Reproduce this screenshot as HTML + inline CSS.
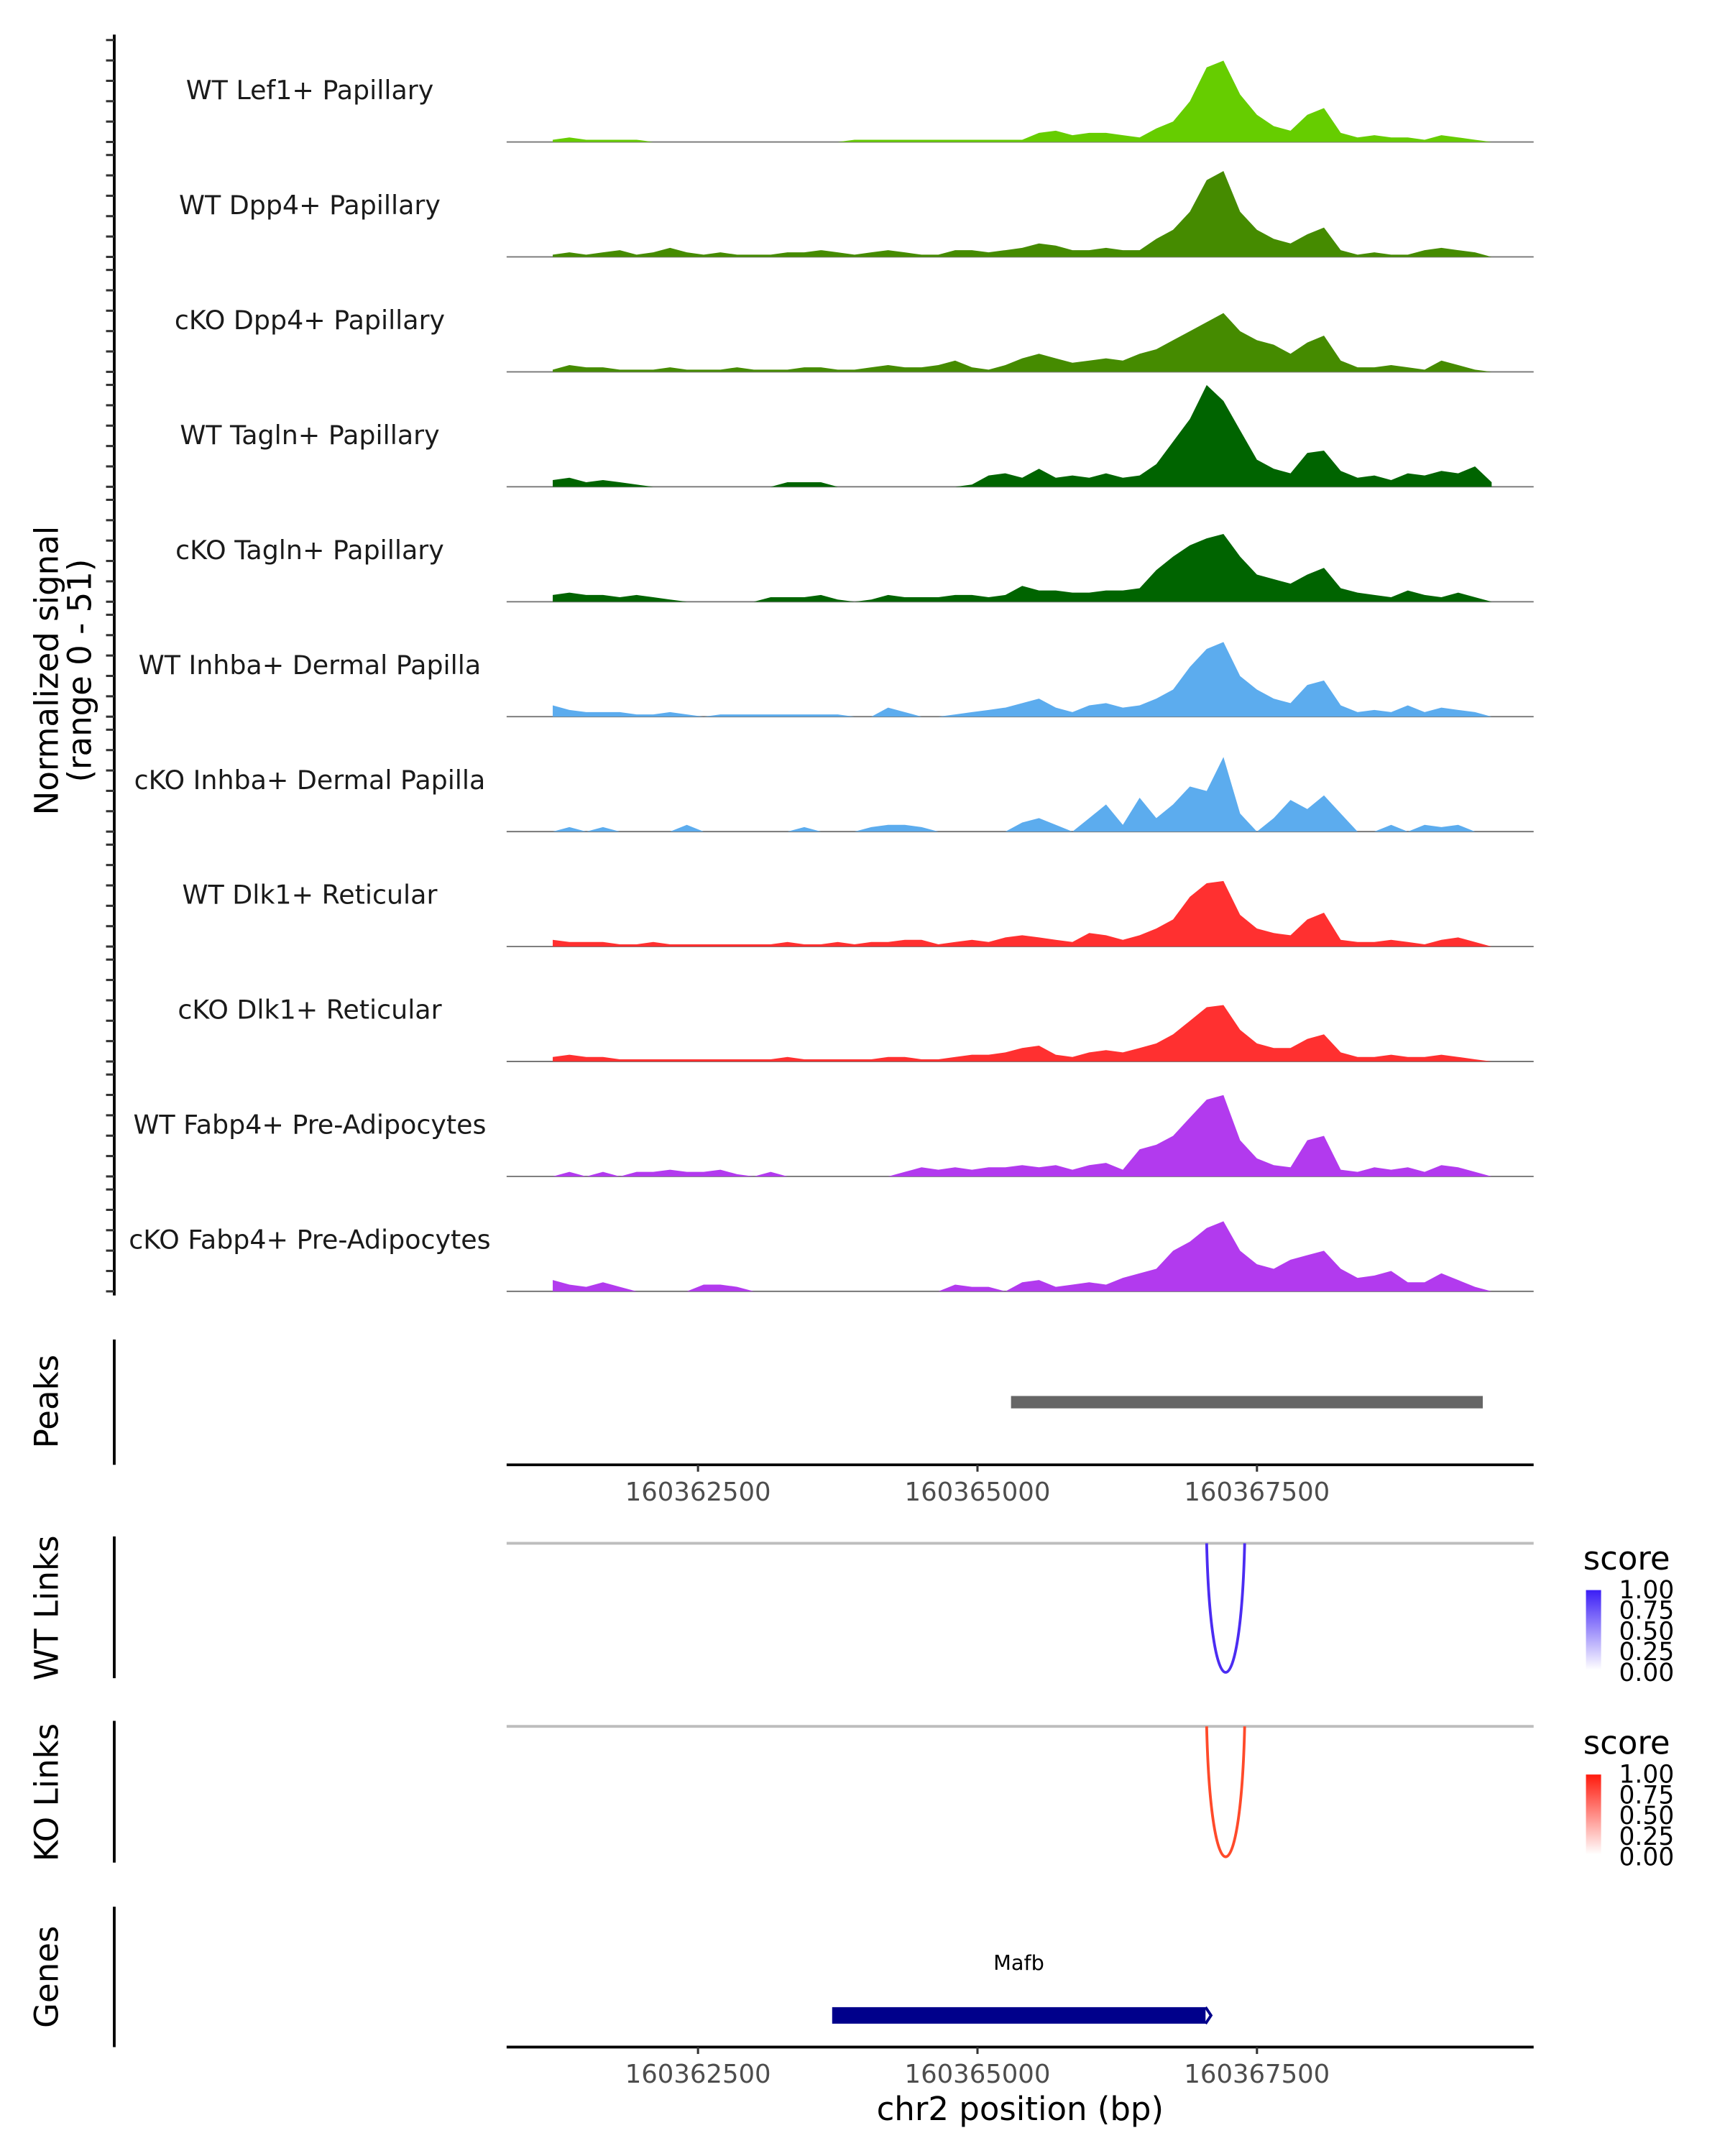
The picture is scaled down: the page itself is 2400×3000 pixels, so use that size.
<!DOCTYPE html>
<html><head><meta charset="utf-8"><style>
html,body{margin:0;padding:0;background:#fff}
svg{display:block}
text{font-family:"DejaVu Sans","Liberation Sans",sans-serif}
</style></head><body>
<svg id="chart" width="2400" height="3000" viewBox="0 0 1253 1566" xmlns="http://www.w3.org/2000/svg">
<defs>
<linearGradient id="gBlue" x1="0" y1="1" x2="0" y2="0"><stop offset="0" stop-color="#ffffff"/><stop offset="1" stop-color="#3b1ef6"/></linearGradient>
<linearGradient id="gRed" x1="0" y1="1" x2="0" y2="0"><stop offset="0" stop-color="#ffffff"/><stop offset="1" stop-color="#ff1a0d"/></linearGradient>
</defs>
<g id="tracks"></g>
<text transform="translate(42,487) rotate(-90)" text-anchor="middle" font-size="23.5" fill="#000">Normalized signal</text>
<text transform="translate(66,487) rotate(-90)" text-anchor="middle" font-size="23.5" fill="#000">(range 0 - 51)</text>

<g>
<line x1="83" y1="973" x2="83" y2="1064" stroke="#000" stroke-width="2"/>
<text transform="translate(42,1018) rotate(-90)" text-anchor="middle" font-size="23.5">Peaks</text>
<g id="peaks"></g>
<line x1="368" y1="1064" x2="1114" y2="1064" stroke="#000" stroke-width="2"/>
<g id="axis1"></g>
</g>

<g>
<line x1="83" y1="1116" x2="83" y2="1219" stroke="#000" stroke-width="2"/>
<text transform="translate(42,1168) rotate(-90)" text-anchor="middle" font-size="23.5">WT Links</text>
<line x1="368" y1="1121" x2="1114" y2="1121" stroke="#bdbdbd" stroke-width="2"/>
<g id="wtlinks"></g>
<g>
<text x="1150" y="1140" font-size="23.5">score</text>
<rect x="1152" y="1155" width="11" height="58" fill="url(#gBlue)"/>
<text x="1176" y="1161" font-size="18">1.00</text><text x="1176" y="1176" font-size="18">0.75</text><text x="1176" y="1191" font-size="18">0.50</text><text x="1176" y="1206" font-size="18">0.25</text><text x="1176" y="1221" font-size="18">0.00</text>
</g>
</g>

<g>
<line x1="83" y1="1250" x2="83" y2="1353" stroke="#000" stroke-width="2"/>
<text transform="translate(42,1302) rotate(-90)" text-anchor="middle" font-size="23.5">KO Links</text>
<line x1="368" y1="1254" x2="1114" y2="1254" stroke="#bdbdbd" stroke-width="2"/>
<g id="kolinks"></g>
<g>
<text x="1150" y="1274" font-size="23.5">score</text>
<rect x="1152" y="1289" width="11" height="58" fill="url(#gRed)"/>
<text x="1176" y="1295" font-size="18">1.00</text><text x="1176" y="1310" font-size="18">0.75</text><text x="1176" y="1325" font-size="18">0.50</text><text x="1176" y="1340" font-size="18">0.25</text><text x="1176" y="1355" font-size="18">0.00</text>
</g>
</g>

<g>
<line x1="83" y1="1385" x2="83" y2="1487" stroke="#000" stroke-width="2"/>
<text transform="translate(42,1436) rotate(-90)" text-anchor="middle" font-size="23.5">Genes</text>
<g id="genes"></g>
<line x1="368" y1="1487" x2="1114" y2="1487" stroke="#000" stroke-width="2"/>
<g id="axis2"></g>
<text x="741" y="1540" text-anchor="middle" font-size="23.5">chr2 position (bp)</text>
</g>
</svg>
<script>
const trackNames=["WT Lef1+ Papillary","WT Dpp4+ Papillary","cKO Dpp4+ Papillary","WT Tagln+ Papillary","cKO Tagln+ Papillary","WT Inhba+ Dermal Papilla","cKO Inhba+ Dermal Papilla","WT Dlk1+ Reticular","cKO Dlk1+ Reticular","WT Fabp4+ Pre-Adipocytes","cKO Fabp4+ Pre-Adipocytes"];
const trackColors=["#66CD00","#458B00","#458B00","#006400","#006400","#5CACEE","#5CACEE","#FF3030","#FF3030","#B23AEE","#B23AEE"];
const binStart=160361200;
const binSize=150;
const sigLef1=[1,2,1,1,1,1,0,0,0,0,0,0,0,0,0,0,0,0,1,1,1,1,1,1,1,1,1,1,1,4,5,3,4,4,3,2,6,9,18,33,36,21,12,7,5,12,15,4,2,3,2,2,1,3,2,1,0];
const sigDpp4WT=[1,2,1,2,3,1,2,4,2,1,2,1,1,1,2,2,3,2,1,2,3,2,1,1,3,3,2,3,4,6,5,3,3,4,3,3,8,12,20,34,38,20,12,8,6,10,13,3,1,2,1,1,3,4,3,2,0];
const sigDpp4KO=[1,3,2,2,1,1,1,2,1,1,1,2,1,1,1,2,2,1,1,2,3,2,2,3,5,2,1,3,6,8,6,4,5,6,5,8,10,14,18,22,26,18,14,12,8,13,16,5,2,2,3,2,1,5,3,1,0];
const sigTaglnWT=[3,4,2,3,2,1,0,0,0,0,0,0,0,0,2,2,2,0,0,0,0,0,0,0,0,1,5,6,4,8,4,5,4,6,4,5,10,20,30,45,38,25,12,8,6,15,16,7,4,5,3,6,5,7,6,9,2];
const sigTaglnKO=[3,4,3,3,2,3,2,1,0,0,0,0,0,2,2,2,3,1,0,1,3,2,2,2,3,3,2,3,7,5,5,4,4,5,5,6,14,20,25,28,30,20,12,10,8,12,15,6,4,3,2,5,3,2,4,2,0];
const sigInhbaWT=[5,3,2,2,2,1,1,2,1,0,1,1,1,1,1,1,1,1,0,0,4,2,0,0,1,2,3,4,6,8,4,2,5,6,4,5,8,12,22,30,33,18,12,8,6,14,16,5,2,3,2,5,2,4,3,2,0];
const sigInhbaKO=[0,2,0,2,0,0,0,0,3,0,0,0,0,0,0,2,0,0,0,2,3,3,2,0,0,0,0,0,4,6,3,0,6,12,3,15,6,12,20,18,33,8,0,6,14,10,16,8,0,0,3,0,3,2,3,0,0];
const sigDlk1WT=[3,2,2,2,1,1,2,1,1,1,1,1,1,1,2,1,1,2,1,2,2,3,3,1,2,3,2,4,5,4,3,2,6,5,3,5,8,12,22,28,29,14,8,6,5,12,15,3,2,2,3,2,1,3,4,2,0];
const sigDlk1KO=[2,3,2,2,1,1,1,1,1,1,1,1,1,1,2,1,1,1,1,1,2,2,1,1,2,3,3,4,6,7,3,2,4,5,4,6,8,12,18,24,25,14,8,6,6,10,12,4,2,2,3,2,2,3,2,1,0];
const sigFabp4WT=[0,2,0,2,0,2,2,3,2,2,3,1,0,2,0,0,0,0,0,0,0,2,4,3,4,3,4,4,5,4,5,3,5,6,3,12,14,18,26,34,36,16,8,5,4,16,18,3,2,4,3,4,2,5,4,2,0];
const sigFabp4KO=[5,3,2,4,2,0,0,0,0,3,3,2,0,0,0,0,0,0,0,0,0,0,0,0,3,2,2,0,4,5,2,3,4,3,6,8,10,18,22,28,31,18,12,10,14,16,18,10,6,7,9,4,4,8,5,2,0];
const allSignals=[sigLef1,sigDpp4WT,sigDpp4KO,sigTaglnWT,sigTaglnKO,sigInhbaWT,sigInhbaKO,sigDlk1WT,sigDlk1KO,sigFabp4WT,sigFabp4KO];
const xTicks=[160362500,160365000,160367500];
const peakRanges=[[160365300,160369520]];
const wtLinks=[[160367050,160367390,1]];
const koLinks=[[160367050,160367390,1]];
const genes=[{name:"Mafb",start:160363700,end:160367040}];

const NS="http://www.w3.org/2000/svg";
const xMin=160360788, xMax=160369975, pxL=368, pxR=1114;
function xs(v){return pxL+(v-xMin)/(xMax-xMin)*(pxR-pxL);}
const trackH=75.5, yDomain=46, base0=103, step=83.5;
function mk(tag,attrs,parent){const e=document.createElementNS(NS,tag);for(const k in attrs)e.setAttribute(k,attrs[k]);parent.appendChild(e);return e;}

const tg=document.getElementById('tracks');
const ax=mk('line',{x1:83,y1:25,x2:83,y2:941,stroke:'#000','stroke-width':2},tg);


allSignals.forEach((sig,t)=>{
  const base=base0+t*step;
  for(let k=0;k<=5;k++){
    const y=base-k*10/51*trackH;
    const tk=mk('line',{x1:77,y1:y,x2:83,y2:y,stroke:'#333','stroke-width':1.6},tg);
    
    
  }
  const g=mk('g',{},tg);
  
  
  const lbl=mk('text',{x:225,y:base-31,'text-anchor':'middle','font-size':19,fill:'#1a1a1a'},g);
  lbl.textContent=trackNames[t];
  
  
  mk('line',{x1:pxL,y1:base,x2:pxR,y2:base,stroke:'#777','stroke-width':1},g);
  let d='M'+xs(binStart).toFixed(1)+','+base;
  sig.forEach((v,i)=>{const x=xs(binStart+i*binSize);const y=base-Math.min(v,yDomain)/yDomain*trackH;d+=' L'+x.toFixed(1)+','+y.toFixed(1);});
  d+=' L'+xs(binStart+(sig.length-1)*binSize).toFixed(1)+','+base+' Z';
  const area=mk('path',{d:d,fill:trackColors[t]},g);
  
  
});

const pg=document.getElementById('peaks');
peakRanges.forEach(p=>{
  const r=mk('rect',{x:xs(p[0]),y:1014,width:xs(p[1])-xs(p[0]),height:9,fill:'#666'},pg);
  
  
});
function drawAxis(id,y){
  const g=document.getElementById(id);
  xTicks.forEach(v=>{
    const x=xs(v);
    mk('line',{x1:x,y1:y,x2:x,y2:y+5,stroke:'#333','stroke-width':1.6},g);
    const t=mk('text',{x:x,y:y+26,'text-anchor':'middle','font-size':18.5,fill:'#4d4d4d'},g);
    t.textContent=v;
    
    
  });
}
drawAxis('axis1',1064);drawAxis('axis2',1487);

function drawLinks(id,links,top,depth,color){
  const g=document.getElementById(id);
  links.forEach(l=>{
    const x1=xs(l[0]),x2=xs(l[1]);
    const p=mk('path',{d:`M${x1},${top} C${x1+3},${top+depth*1.33} ${x2-3},${top+depth*1.33} ${x2},${top}`,fill:'none',stroke:color,'stroke-width':2},g);
    
    
  });
}
drawLinks('wtlinks',wtLinks,1121,94,'#4b2cf2');
drawLinks('kolinks',koLinks,1254,95,'#ff4a2a');

const gg=document.getElementById('genes');
genes.forEach(ge=>{
  const x1=xs(ge.start),x2=xs(ge.end);
  const r=mk('rect',{x:x1,y:1458,width:x2-x1,height:12,fill:'#00008B'},gg);
  
  
  mk('path',{d:`M${x2},${1458} L${x2+4},${1464} L${x2},${1470}`,fill:'none',stroke:'#00008B','stroke-width':2},gg);
  const t=mk('text',{x:(x1+x2)/2,y:1431,'text-anchor':'middle','font-size':15},gg);
  t.textContent=ge.name;
  
  
});
</script>
</body></html>
